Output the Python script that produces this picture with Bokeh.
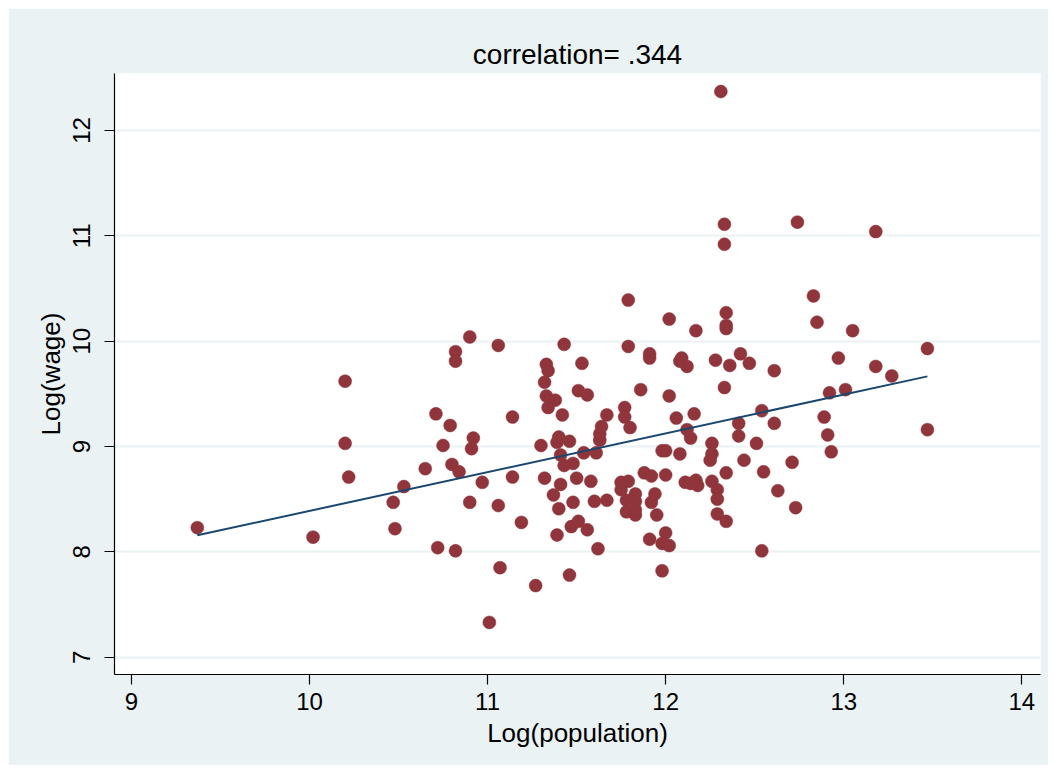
from bokeh.plotting import figure
from bokeh.models import ColumnDataSource, Range1d, FixedTicker
from bokeh.embed import file_html
from bokeh.resources import INLINE

# ---- data ----
log_population = [
    9.37, 10.20, 10.20, 10.22, 10.02, 10.53, 10.47, 10.48,
    10.90, 10.82, 10.82, 11.06, 11.43, 11.53, 11.33, 11.34, 11.32, 11.51,
    11.56, 11.33, 11.38, 11.34, 11.42, 10.71, 10.79, 11.14, 10.92, 10.91,
    10.75, 11.30, 11.40, 11.39, 11.46, 11.41, 11.43, 11.48, 11.54, 11.61,
    11.63, 11.63, 11.64, 10.80, 10.84, 10.65, 10.97, 11.14, 11.32, 11.41,
    11.50, 11.58, 11.37, 11.40, 11.48, 11.60, 10.90, 11.06, 11.19, 11.39,
    11.47, 11.51, 11.56, 10.72, 10.82, 11.62, 11.07, 11.46, 11.27, 11.01,
    11.79, 12.02, 12.17, 12.34, 12.34, 12.34, 11.79, 11.91, 11.91, 12.09,
    12.12, 12.08, 12.28, 12.36, 12.42, 12.47, 11.86, 12.02, 12.33, 11.67,
    11.77, 11.77, 11.80, 12.06, 12.16, 12.12, 12.14, 12.41, 12.41, 12.51,
    12.26, 12.26, 12.25, 12.44, 11.98, 12.00, 12.08, 11.88, 11.92, 12.00,
    11.75, 11.79, 11.75, 11.83, 11.78, 11.83, 11.94, 11.92, 11.67, 11.78,
    11.83, 11.83, 11.95, 12.11, 12.14, 12.17, 12.18, 12.26, 12.29, 12.29,
    12.34, 12.29, 12.34, 11.91, 12.00, 11.98, 12.02, 11.98,
    12.54, 12.55, 12.54, 12.74, 13.18, 12.83, 12.85, 13.05, 13.47, 12.61,
    12.97, 13.18, 13.27, 12.92, 13.01, 12.61, 12.89, 12.91, 12.93, 13.47,
    12.71, 12.63, 12.73,
    12.31, 12.33, 12.33,
]
log_wage = [
    8.23, 9.62, 9.03, 8.71, 8.14, 8.62, 8.47, 8.22,
    10.04, 9.90, 9.81, 9.96, 9.97, 9.79, 9.78, 9.72, 9.61, 9.53,
    9.49, 9.48, 9.44, 9.37, 9.30, 9.31, 9.20, 9.28, 9.08, 8.98,
    9.01, 9.01, 9.09, 9.04, 9.05, 8.92, 8.82, 8.84, 8.94, 8.94,
    9.06, 9.12, 9.19, 8.83, 8.76, 8.79, 8.66, 8.71, 8.70, 8.64,
    8.70, 8.67, 8.54, 8.41, 8.47, 8.48, 8.47, 8.44, 8.28, 8.16,
    8.24, 8.29, 8.21, 8.04, 8.01, 8.03, 7.85, 7.78, 7.68, 7.33,
    10.39, 10.21, 10.10, 10.27, 10.15, 10.12, 9.95, 9.88, 9.84, 9.84,
    9.76, 9.81, 9.82, 9.77, 9.88, 9.79, 9.54, 9.48, 9.56, 9.30,
    9.37, 9.28, 9.18, 9.27, 9.31, 9.16, 9.08, 9.22, 9.10, 9.03,
    9.03, 8.93, 8.87, 8.87, 8.96, 8.96, 8.93, 8.75, 8.72, 8.73,
    8.66, 8.67, 8.59, 8.55, 8.49, 8.48, 8.55, 8.47, 8.49, 8.38,
    8.35, 8.40, 8.35, 8.66, 8.65, 8.68, 8.63, 8.67, 8.59, 8.50,
    8.75, 8.36, 8.29, 8.12, 8.18, 8.08, 8.06, 7.82,
    8.01, 8.76, 9.34, 11.13, 11.04, 10.43, 10.18, 10.10, 9.93, 9.72,
    9.84, 9.76, 9.67, 9.51, 9.54, 9.22, 9.28, 9.11, 8.95, 9.16,
    8.85, 8.58, 8.42,
    12.37, 11.11, 10.92,
]

# fitted line (linear fit) endpoints
fit_x = [9.37, 13.47]
fit_y = [8.157, 9.666]

x_ticks = [9, 10, 11, 12, 13, 14]
y_ticks = [7, 8, 9, 10, 11, 12]

title_text = "correlation= .344"
x_title = "Log(population)"
y_title = "Log(wage)"

# ---- styles ----
BG = "#EAF2F3"
MAROON = "#90353B"
NAVY = "#1A476F"
FONT = "Liberation Sans"

p = figure(
    width=1040, height=757,
    x_range=Range1d(8.905, 14.105),
    y_range=Range1d(6.836, 12.541),
    output_backend="svg",
    toolbar_location=None,
    background_fill_color="white",
    border_fill_color=BG,
    min_border_left=106, min_border_right=8,
    min_border_top=65, min_border_bottom=91,
)
p.margin = (8, 0, 0, 8)
p.outline_line_color = None

p.title.text = title_text
p.title.align = "center"
p.title.text_font = FONT
p.title.text_font_size = "28px"
p.title.text_font_style = "normal"
p.title.text_color = "black"
p.title.standoff = 8

# grid
p.xgrid.visible = False
p.ygrid.grid_line_color = BG
p.ygrid.grid_line_width = 2
p.yaxis.ticker = FixedTicker(ticks=y_ticks)
p.xaxis.ticker = FixedTicker(ticks=x_ticks)

for ax in (p.xaxis[0], p.yaxis[0]):
    ax.axis_line_color = "black"
    ax.axis_line_width = 1.2
    ax.major_tick_line_color = "black"
    ax.major_tick_line_width = 1.2
    ax.major_tick_out = 10
    ax.major_tick_in = 0
    ax.minor_tick_out = 0
    ax.minor_tick_in = 0
    ax.major_label_text_font = FONT
    ax.major_label_text_font_size = "24px"
    ax.major_label_text_color = "black"
    ax.axis_label_text_font = FONT
    ax.axis_label_text_font_size = "26px"
    ax.axis_label_text_font_style = "normal"
    ax.axis_label_text_color = "black"

p.xaxis.axis_label = x_title
p.yaxis.axis_label = y_title
p.xaxis.major_label_standoff = 8
p.xaxis.axis_label_standoff = 5
p.yaxis.major_label_orientation = "vertical"
p.yaxis.major_label_standoff = 14
p.yaxis.axis_label_standoff = 5

src = ColumnDataSource(data=dict(x=log_population, y=log_wage))
p.scatter("x", "y", source=src, marker="circle", size=13,
          fill_color=MAROON, line_color=MAROON, line_width=0.5)

p.line(fit_x, fit_y, line_color=NAVY, line_width=2)

open("out.html", "w").write(file_html(p, INLINE))
